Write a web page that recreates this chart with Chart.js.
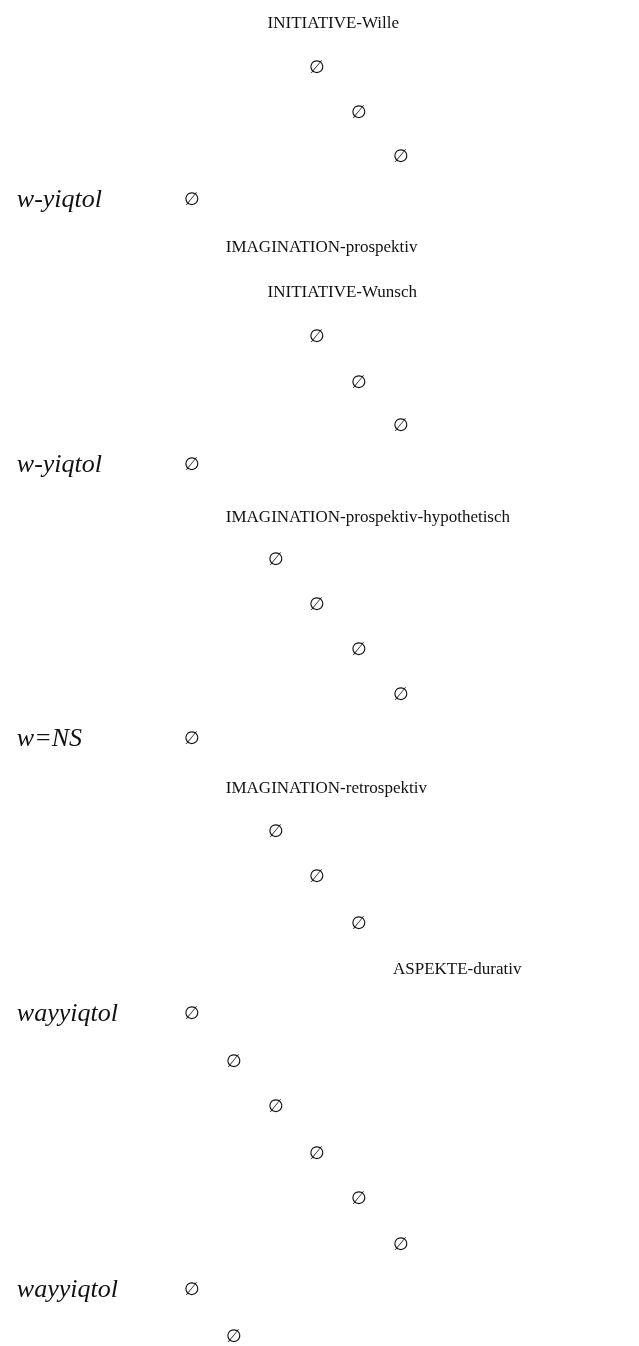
<!DOCTYPE html>
<html>
<head>
<meta charset="utf-8">
<script src="https://cdn.jsdelivr.net/npm/chart.js@4"></script>
<style>
  html, body { margin: 0; padding: 0; background: #fff; }
  #wrap { position: relative; width: 639px; height: 1346px; }
</style>
</head>
<body>
<div id="wrap"><canvas id="chart"></canvas></div>
<script>
// Verbformen links (kursiv)
const formLabels = ['w-yiqtol', 'w-yiqtol', 'w=NS', 'wayyiqtol', 'wayyiqtol'];
const formLevel = [-4, -4, -4, -4, -4];
const formRow = [198, 463, 737, 1012, 1288];

// Kategorien
const tagLabels = ['INITIATIVE-Wille', 'IMAGINATION-prospektiv', 'INITIATIVE-Wunsch',
  'IMAGINATION-prospektiv-hypothetisch', 'IMAGINATION-retrospektiv', 'ASPEKTE-durativ'];
const tagLevel = [2, 1, 2, 1, 1, 5];
const tagRow = [22, 246, 291, 516, 787, 968];

// Leerstellen
const nullLevel = [3, 4, 5, 0, 3, 4, 5, 0, 2, 3, 4, 5, 0, 2, 3, 4, 0, 1, 2, 3, 4, 5, 0, 1];
const nullRow = [66, 111, 155, 198, 335, 381, 424, 463, 558, 603, 648, 693, 737,
  830, 875, 922, 1012, 1060, 1105, 1152, 1197, 1243, 1288, 1335];

function pts(xs, ys) {
  return xs.map((x, i) => ({ x: x, y: ys[i] }));
}

const textPlugin = {
  id: 'textMarks',
  afterDatasetsDraw(chart) {
    const ctx = chart.ctx;
    chart.data.datasets.forEach((ds, di) => {
      const meta = chart.getDatasetMeta(di);
      ctx.save();
      ctx.fillStyle = '#111';
      ctx.font = ds.textFont;
      ctx.textAlign = 'left';
      ctx.textBaseline = 'middle';
      meta.data.forEach((el, i) => {
        ctx.fillText(ds.texts[i], el.x, el.y);
      });
      ctx.restore();
    });
  }
};

new Chart(document.getElementById('chart'), {
  type: 'scatter',
  data: {
    datasets: [
      {
        label: 'formen',
        data: pts(formLevel, formRow),
        texts: formLabels,
        textFont: 'italic 26px "Liberation Serif", "DejaVu Serif", serif',
        pointRadius: 0,
      },
      {
        label: 'kategorien',
        data: pts(tagLevel, tagRow),
        texts: tagLabels,
        textFont: '17px "Liberation Serif", "DejaVu Serif", serif',
        pointRadius: 0,
      },
      {
        label: 'leer',
        data: pts(nullLevel, nullRow),
        texts: nullLevel.map(() => '\u2205'),
        textFont: '18px "Liberation Serif", "DejaVu Serif", serif',
        pointRadius: 0,
      },
    ],
  },
  options: {
    responsive: true,
    maintainAspectRatio: false,
    animation: false,
    layout: { padding: 0 },
    scales: {
      x: { type: 'linear', min: -4.402, max: 10.885, display: false },
      y: { type: 'linear', min: -2, max: 1344, reverse: true, display: false },
    },
    plugins: { legend: { display: false }, tooltip: { enabled: false } },
  },
  plugins: [textPlugin],
});
</script>
</body>
</html>
